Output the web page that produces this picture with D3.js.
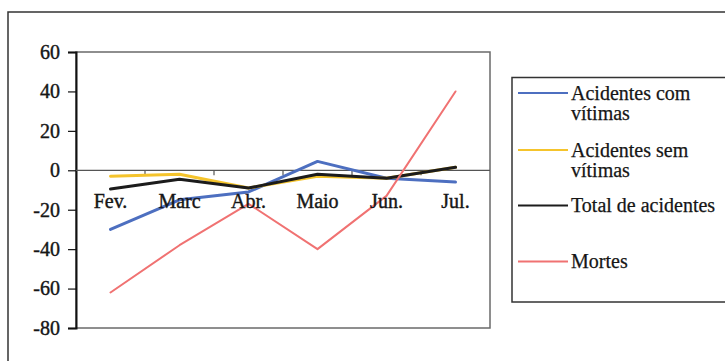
<!DOCTYPE html>
<html>
<head>
<meta charset="utf-8">
<script src="https://cdn.jsdelivr.net/npm/d3@7"></script>
<style>
  html, body { margin: 0; padding: 0; background: #fff; }
  svg { display: block; }
</style>
</head>
<body>
<svg id="chart" width="725" height="361"></svg>
<script>
// Monthly variation (%) of traffic accidents
const months = ["Fev.", "Marc", "Abr.", "Maio", "Jun.", "Jul."];
const comVitimas = [-30, -15, -11, 4.5, -4, -6];
const semVitimas = [-3, -2, -9, -3, -4, 1.5];
const totalAcidentes = [-9.5, -4.5, -9, -2, -4, 1.5];
const mortes = [-62, -38, -17, -40, -13, 40];
const yTicks = [60, 40, 20, 0, -20, -40, -60, -80];

const seriesNames = ["Acidentes com\nvítimas", "Acidentes sem\nvítimas", "Total de acidentes", "Mortes"];
const seriesValues = [comVitimas, semVitimas, totalAcidentes, mortes];
const seriesColors = ["#4d6fc0", "#f5c42c", "#1c1c1c", "#f07272"];
const seriesWidths = [3, 3, 3, 2];

const FONT = "'Liberation Serif', 'Times New Roman', serif";
const INK = "#161616";

const svg = d3.select("#chart");

// outer chart frame (runs off the right and bottom edges)
svg.append("rect")
  .attr("x", 8).attr("y", 12).attr("width", 760).attr("height", 400)
  .attr("fill", "none").attr("stroke", "#333").attr("stroke-width", 1.5);

const plot = { left: 76, right: 490, top: 52, bottom: 328 };

const x = d3.scaleBand().domain(months).range([plot.left, plot.right]).padding(0);
const y = d3.scaleLinear().domain([-80, 60]).range([plot.bottom, plot.top]);

// plot area border
svg.append("rect")
  .attr("x", plot.left).attr("y", plot.top)
  .attr("width", plot.right - plot.left).attr("height", plot.bottom - plot.top)
  .attr("fill", "none").attr("stroke", "#6a6a6a").attr("stroke-width", 1.5);

function styleText(sel) {
  sel.attr("font-family", FONT)
    .style("font-family", FONT)
    .style("font-size", "20px")
    .attr("fill", INK)
    .attr("stroke", INK).attr("stroke-width", 0.4);
}

// value axis
const yAxis = svg.append("g")
  .attr("transform", `translate(${plot.left},0)`)
  .call(d3.axisLeft(y).tickValues(yTicks).tickSize(8).tickPadding(8).tickFormat(d => String(d)));
yAxis.select(".domain").attr("stroke", "#111").attr("stroke-width", 2);
yAxis.selectAll(".tick line").attr("stroke", "#111").attr("stroke-width", 1.2);
yAxis.selectAll(".tick text").call(styleText);

// category axis crossing at zero
const zeroY = y(0);
svg.append("line")
  .attr("x1", plot.left).attr("x2", plot.right)
  .attr("y1", zeroY).attr("y2", zeroY)
  .attr("stroke", "#555").attr("stroke-width", 1.2);
svg.append("g").selectAll("line")
  .data(months.slice(1))
  .join("line")
  .attr("x1", d => x(d)).attr("x2", d => x(d))
  .attr("y1", zeroY).attr("y2", zeroY + 5)
  .attr("stroke", "#555").attr("stroke-width", 1.2);

// series lines
const line = d3.line()
  .x((d, i) => x(months[i]) + x.bandwidth() / 2)
  .y(d => y(d));

seriesValues.forEach((vals, k) => {
  svg.append("path")
    .datum(vals)
    .attr("d", line)
    .attr("fill", "none")
    .attr("stroke", seriesColors[k])
    .attr("stroke-width", seriesWidths[k])
    .attr("stroke-linejoin", "round")
    .attr("stroke-linecap", "round");
});

// category labels
const xAxis = svg.append("g")
  .attr("transform", `translate(0,${zeroY + 38})`)
  .call(d3.axisBottom(x).tickSize(0).tickPadding(0));
xAxis.select(".domain").remove();
xAxis.selectAll(".tick text").attr("dy", 0).call(styleText);

// legend
const legend = svg.append("g");
legend.append("rect")
  .attr("x", 512).attr("y", 77.5).attr("width", 260).attr("height", 224.5)
  .attr("fill", "none").attr("stroke", "#333").attr("stroke-width", 1.5);

const entryBase = [99.5, 156.5, 212, 268];
seriesNames.forEach((name, k) => {
  const by = entryBase[k];
  legend.append("line")
    .attr("x1", 518).attr("x2", 568)
    .attr("y1", by - 6.5).attr("y2", by - 6.5)
    .attr("stroke", seriesColors[k]).attr("stroke-width", 2);
  const t = legend.append("text")
    .attr("x", 571).attr("y", by)
    .call(styleText)
    .attr("stroke-width", 0.25);
  name.split("\n").forEach((part, j) => {
    t.append("tspan").attr("x", 571).attr("dy", j === 0 ? 0 : 20.5).text(part);
  });
});
</script>
</body>
</html>
